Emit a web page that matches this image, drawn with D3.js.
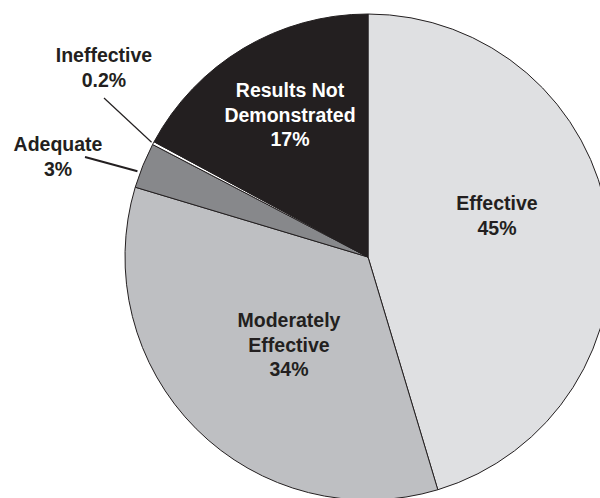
<!DOCTYPE html>
<html><head><meta charset="utf-8">
<script src="https://cdn.jsdelivr.net/npm/d3@7"></script>
<style>html,body{margin:0;padding:0;background:#fff;}svg{display:block;}</style>
</head><body>
<svg id="chart" width="600" height="498"></svg>
<script>
const categories = ["Effective", "Moderately Effective", "Adequate", "Ineffective", "Results Not Demonstrated"];
const values = [45, 34, 3, 0.2, 17];
const valueLabels = ["45%", "34%", "3%", "0.2%", "17%"];
const nameLines = [["Effective"], ["Moderately", "Effective"], ["Adequate"], ["Ineffective"], ["Results Not", "Demonstrated"]];
const fills = ["#dfe0e2", "#bebfc2", "#87888b", "#ffffff", "#231f20"];
const textColors = ["#231f20", "#231f20", "#231f20", "#231f20", "#ffffff"];

const svg = d3.select("#chart");
const cx = 368, cy = 257, R = 243;
const g = svg.append("g").attr("transform", `translate(${cx},${cy})`);

const data = categories.map((c, i) => ({name: c, value: values[i], i}));
const pie = d3.pie().sort(null).value(d => d.value).startAngle(0).endAngle(2 * Math.PI);
const arcs = pie(data);
const arc = d3.arc().innerRadius(0).outerRadius(R);

g.selectAll("path.slice").data(arcs).join("path")
  .attr("class", "slice")
  .attr("d", arc)
  .attr("fill", d => fills[d.data.i])
  .attr("stroke", "#231f20")
  .attr("stroke-width", 1)
  .attr("stroke-linejoin", "round");

// Label positions (in page coordinates) for each slice
const labelPos = [
  {x: 497, y: 210},
  {x: 289, y: 327},
  {x: 58, y: 151},
  {x: 104, y: 62},
  {x: 290, y: 97}
];
const lineH = 24.5;

arcs.forEach(a => {
  const i = a.data.i;
  const p = labelPos[i];
  const lines = nameLines[i].concat([valueLabels[i]]);
  const t = svg.append("text")
    .attr("x", p.x).attr("y", p.y)
    .attr("text-anchor", "middle")
    .attr("font-family", "'Liberation Sans', Arial, Helvetica, sans-serif")
    .attr("font-weight", "bold")
    .attr("font-size", 19.5)
    .attr("fill", textColors[i]);
  lines.forEach((ln, k) => {
    t.append("tspan").attr("x", p.x).attr("dy", k === 0 ? 0 : lineH).text(ln);
  });
});

// Leader lines for small slices, ending at the slice's outer edge
function edgePoint(angle, r) {
  return [cx + r * Math.sin(angle), cy - r * Math.cos(angle)];
}
const ineff = arcs[3], adeq = arcs[2];
const pI = edgePoint((ineff.startAngle + ineff.endAngle) / 2, R + 2);
svg.append("line").attr("x1", 104).attr("y1", 98).attr("x2", pI[0]).attr("y2", pI[1])
  .attr("stroke", "#231f20").attr("stroke-width", 1.2);
const pA = edgePoint((adeq.startAngle + adeq.endAngle) / 2 - 0.03, R + 3);
svg.append("line").attr("x1", 85).attr("y1", 157).attr("x2", pA[0]).attr("y2", pA[1])
  .attr("stroke", "#231f20").attr("stroke-width", 2);
</script>
</body></html>
